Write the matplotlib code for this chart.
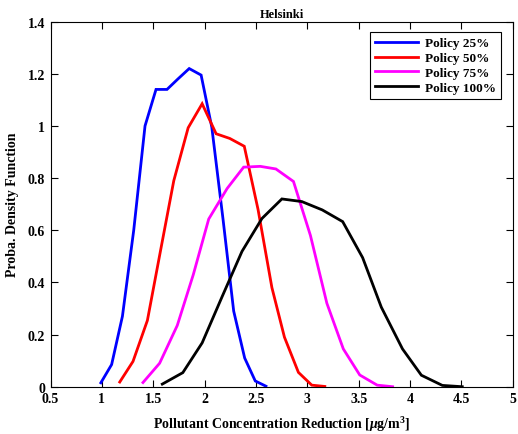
import matplotlib
matplotlib.use("Agg")
import matplotlib.pyplot as plt

plt.rcParams['font.family'] = ['Liberation Serif', 'DejaVu Serif']
plt.rcParams['font.weight'] = 'bold'
plt.rcParams['mathtext.fontset'] = 'custom'
plt.rcParams['mathtext.rm'] = 'Liberation Serif:bold'
plt.rcParams['mathtext.it'] = 'Liberation Serif:italic:bold'
plt.rcParams['mathtext.bf'] = 'Liberation Serif:bold'

# Probability density estimates of concentration reduction, Helsinki
policy_labels = ['Policy 25%', 'Policy 50%', 'Policy 75%', 'Policy 100%']
policy_colors = ['#0000ff', '#ff0000', '#ff00ff', '#000000']

p25_x = [0.99, 1.095, 1.20, 1.31, 1.42, 1.527, 1.634, 1.74, 1.85, 1.966, 2.07, 2.18, 2.283, 2.39, 2.493, 2.597]
p25_y = [0.015, 0.085, 0.27, 0.60, 1.00, 1.14, 1.14, 1.18, 1.22, 1.195, 0.995, 0.64, 0.29, 0.11, 0.022, 0.002]

p50_x = [1.174, 1.303, 1.443, 1.57, 1.70, 1.84, 1.976, 2.112, 2.245, 2.386, 2.52, 2.655, 2.777, 2.913, 3.043, 3.17]
p50_y = [0.018, 0.097, 0.254, 0.52, 0.79, 0.993, 1.085, 0.97, 0.952, 0.922, 0.68, 0.38, 0.19, 0.055, 0.006, 0.001]

p75_x = [1.40, 1.562, 1.734, 1.89, 2.04, 2.219, 2.38, 2.542, 2.694, 2.865, 3.03, 3.19, 3.35, 3.51, 3.68, 3.83]
p75_y = [0.016, 0.09, 0.235, 0.43, 0.643, 0.76, 0.842, 0.845, 0.835, 0.787, 0.58, 0.32, 0.145, 0.045, 0.006, 0.0]

p100_x = [1.588, 1.788, 1.976, 2.17, 2.364, 2.558, 2.752, 2.946, 3.145, 3.344, 3.538, 3.72, 3.926, 4.11, 4.314, 4.508]
p100_y = [0.01, 0.054, 0.168, 0.345, 0.519, 0.645, 0.72, 0.71, 0.678, 0.633, 0.495, 0.305, 0.145, 0.044, 0.005, 0.0]

series = [(p25_x, p25_y), (p50_x, p50_y), (p75_x, p75_y), (p100_x, p100_y)]

x_ticks = [0.5, 1, 1.5, 2, 2.5, 3, 3.5, 4, 4.5, 5]
x_tick_labels = ['0.5', '1', '1.5', '2', '2.5', '3', '3.5', '4', '4.5', '5']
y_ticks = [0, 0.2, 0.4, 0.6, 0.8, 1.0, 1.2, 1.4]
y_tick_labels = ['0', '0.2', '0.4', '0.6', '0.8', '1', '1.2', '1.4']

fig = plt.figure(figsize=(5.18, 4.35), dpi=100)
ax = fig.add_axes([0.0975, 0.1087, 0.8925, 0.8393])

for (xs, ys), lab, col in zip(series, policy_labels, policy_colors):
    ax.plot(xs, ys, color=col, lw=2.0, label=lab, solid_joinstyle='miter')

ax.set_xlim(0.5, 5)
ax.set_ylim(0, 1.4)
ax.set_xticks(x_ticks)
ax.set_xticklabels(x_tick_labels)
ax.set_yticks(y_ticks)
ax.set_yticklabels(y_tick_labels)
ax.tick_params(direction='in', top=True, right=True, length=5, width=0.8,
               labelsize=10, pad=4)
for lbl in ax.get_xticklabels() + ax.get_yticklabels():
    lbl.set_fontweight('bold')
for sp in ax.spines.values():
    sp.set_linewidth(0.8)

ax.set_title('Helsinki', fontsize=9, fontweight='bold', pad=3)
ax.set_xlabel(r'Pollutant Concentration Reduction [$\mu$g/m$^3$]',
              fontsize=10, fontweight='bold', labelpad=6)
ax.set_ylabel('Proba. Density Function', fontsize=10, fontweight='bold', labelpad=6)

leg = ax.legend(loc='upper right', bbox_to_anchor=(0.975, 0.972), fancybox=False,
                edgecolor='black', framealpha=1, borderpad=0.4, labelspacing=0.2,
                handlelength=3.3, handletextpad=0.5, borderaxespad=0.0,
                prop={'family': 'Liberation Serif', 'weight': 'bold', 'size': 9.5})
leg.get_frame().set_linewidth(0.8)

fig.savefig('out.png', dpi=100)
